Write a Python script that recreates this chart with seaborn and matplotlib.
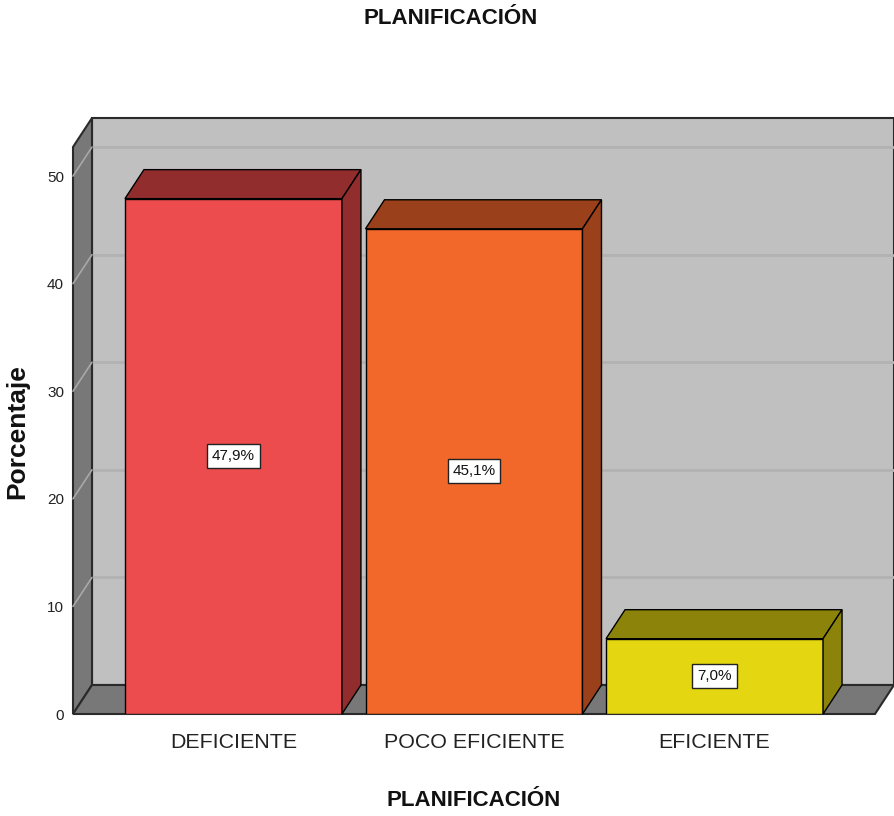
import matplotlib
matplotlib.use("Agg")
import matplotlib.pyplot as plt
from matplotlib.patches import Polygon
import seaborn as sns
import pandas as pd

categories = ["DEFICIENTE", "POCO EFICIENTE", "EFICIENTE"]
values = [47.9, 45.1, 7.0]
front_colors = ["#EC4C4D", "#F2682A", "#E4D610"]
dark_colors = ["#922D2E", "#9A401A", "#8C840A"]
yticks = [0, 10, 20, 30, 40, 50]
title = "PLANIFICACIÓN"
xlabel = "PLANIFICACIÓN"
ylabel = "Porcentaje"

sns.set_theme(style="white")
FONT = ["Liberation Sans Narrow", "Liberation Sans", "DejaVu Sans"]
REG = ["Liberation Sans", "DejaVu Sans"]
plt.rcParams["font.family"] = FONT

W, H, DPI = 894, 816, 100
fig = plt.figure(figsize=(W / DPI, H / DPI), dpi=DPI)
L, R, B, T = 73, 875, 714, 147
ax = fig.add_axes([L / W, (H - B) / H, (R - L) / W, (B - T) / H])

df = pd.DataFrame({"cat": categories, "val": values})
sns.barplot(data=df, x="cat", y="val", hue="cat", palette=front_colors,
            width=0.902, edgecolor="black", linewidth=1.0, legend=False,
            saturation=1, ax=ax, zorder=3)

x0, x1 = -0.667, 2.667
y0, y1 = 0, 52.7
ax.set_xlim(x0, x1)
ax.set_ylim(y0, y1)

# depth offset in data units (19 px right, 29 px up)
DX_PX, DY_PX = 19, 29
dx = DX_PX * (x1 - x0) / (R - L)
dy = DY_PX * (y1 - y0) / (B - T)

wall = "#c0c0c0"
side = "#787878"
edge = "#2a2a2a"

# back wall
ax.add_patch(Polygon([(x0 + dx, y0 + dy), (x1 + dx, y0 + dy), (x1 + dx, y1 + dy), (x0 + dx, y1 + dy)],
                     closed=True, facecolor=wall, edgecolor=edge, linewidth=1.5,
                     zorder=0.5, clip_on=False))
# gridlines
for v in yticks[1:]:
    ax.plot([x0 + dx, x1 + dx], [v + dy, v + dy], color="#b2b2b2", lw=2,
            zorder=0.6, clip_on=False, solid_capstyle="butt")
# left wall
ax.add_patch(Polygon([(x0, y0), (x0, y1), (x0 + dx, y1 + dy), (x0 + dx, y0 + dy)],
                     closed=True, facecolor=side, edgecolor=edge, linewidth=1.5,
                     zorder=0.7, clip_on=False))
for v in yticks[1:]:
    ax.plot([x0, x0 + dx], [v, v + dy], color="#a8a8a8", lw=1.2,
            zorder=0.75, clip_on=False)
# floor
ax.add_patch(Polygon([(x0, y0), (x1, y0), (x1 + dx, y0 + dy), (x0 + dx, y0 + dy)],
                     closed=True, facecolor=side, edgecolor=edge, linewidth=1.5,
                     zorder=0.8, clip_on=False))

# 3D faces of bars
for p, dc, v in zip(ax.patches, dark_colors, values):
    bx0 = p.get_x()
    bx1 = bx0 + p.get_width()
    h = p.get_height()
    ax.add_patch(Polygon([(bx0, h), (bx1, h), (bx1 + dx, h + dy), (bx0 + dx, h + dy)],
                         closed=True, facecolor=dc, edgecolor="black", linewidth=1.0,
                         zorder=3, clip_on=False))
    ax.add_patch(Polygon([(bx1, 0), (bx1 + dx, dy), (bx1 + dx, h + dy), (bx1, h)],
                         closed=True, facecolor=dc, edgecolor="black", linewidth=1.0,
                         zorder=3, clip_on=False))
    ax.text((bx0 + bx1) / 2, h / 2, f"{v:.1f}%".replace(".", ","),
            ha="center", va="center", fontsize=11, color="#111111", zorder=5,
            bbox=dict(boxstyle="square,pad=0.32", facecolor="white",
                      edgecolor="#222222", linewidth=1.0))

for s in ax.spines.values():
    s.set_visible(False)
ax.set_facecolor("none")
ax.set_yticks(yticks)
ax.set_yticklabels([str(t) for t in yticks], fontsize=11, color="#222222")
ax.tick_params(axis="y", length=0, pad=6.5)
ax.tick_params(axis="x", length=0, pad=14, labelsize=15.4, labelcolor="#222222")
ax.set_xlabel("")
ax.set_ylabel("")
fig.text(474 / W, 1 - 800 / H, xlabel, ha="center", va="center",
         fontsize=16, fontweight="bold", color="#111111")
fig.text(17 / W, 1 - 432 / H, ylabel, rotation=90, ha="center", va="center",
         fontsize=19, fontweight="bold", family=REG, color="#111111")
fig.text(451 / W, 1 - 19 / H, title, ha="center", va="center",
         fontsize=16, fontweight="bold", color="#111111")

fig.savefig("out.png", dpi=DPI, facecolor="white")
